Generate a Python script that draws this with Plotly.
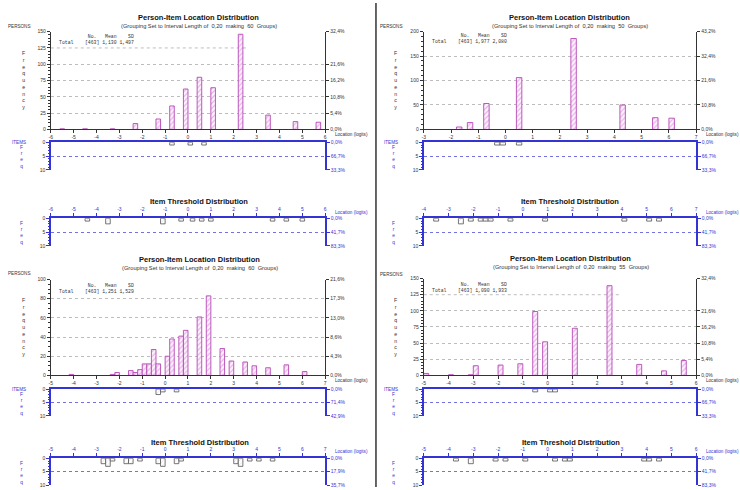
import plotly.graph_objects as go

# ---------------- data ----------------
TOTAL = 463

tl_person_loc = [-5.5, -4.5, -3.3, -2.3, -1.3, -0.7, -0.1, 0.5, 1.1, 2.3, 3.5, 4.7, 5.7]
tl_person_n = [1, 1, 1, 9, 16, 36, 62, 80, 64, 146, 22, 12, 11]
tl_item_loc = [-0.7, 0.1, 0.7]
tl_item_n = [1, 1, 1]
tl_thr_loc = [-4.4, -3.5, -1.1, -0.3, 0.2, 0.6, 1.0, 3.7, 4.3, 5.0]
tl_thr_n = [1, 2, 2, 1, 1, 1, 1, 1, 1, 1]

tr_person_loc = [-1.7, -1.3, -0.7, 0.5, 2.5, 4.3, 5.5, 6.1]
tr_person_n = [5, 14, 53, 106, 186, 50, 24, 23]
tr_item_loc = [-0.3, -0.1, 0.5]
tr_item_n = [1, 1, 1]
tr_thr_loc = [-3.5, -2.5, -2.1, -1.7, -1.5, -1.3, -0.5, 0.9, 4.1, 5.1, 5.5]
tr_thr_n = [1, 2, 1, 1, 1, 1, 1, 1, 1, 1, 1]

bl_person_loc = [-4.1, -2.3, -2.1, -1.5, -1.3, -1.1, -0.9, -0.7, -0.5, -0.3, 0.1, 0.3,
                 0.7, 0.9, 1.5, 1.9, 2.5, 2.9, 3.5, 3.9, 4.5, 5.3, 6.1]
bl_person_n = [1, 1, 3, 5, 3, 6, 12, 12, 27, 12, 20, 38, 41, 47, 61, 83, 28, 15, 14, 10, 8, 11, 4]
bl_item_loc = [-0.3, -0.1, 0.5]
bl_item_n = [2, 1, 1]
bl_thr_loc = [-2.7, -2.5, -2.3, -1.7, -1.5, -1.1, -0.3, -0.1, 0.5, 0.7, 3.1, 3.3, 3.7, 4.1, 4.7]
bl_thr_n = [2, 3, 1, 2, 2, 1, 2, 3, 2, 1, 2, 3, 1, 1, 1]

br_person_loc = [-4.9, -3.9, -3.1, -2.9, -1.9, -1.1, -0.5, -0.1, 1.1, 2.5, 3.7, 4.7, 5.5]
br_person_n = [3, 1, 1, 15, 16, 18, 99, 52, 73, 139, 17, 7, 23]
br_item_loc = [-0.5, 0.1, 0.3]
br_item_n = [1, 1, 1]
br_thr_loc = [-3.7, -3.1, -2.1, -1.7, -0.9, 0.3, 0.7, 0.9, 3.9, 4.1, 4.5]
br_thr_n = [1, 2, 1, 1, 1, 1, 1, 1, 1, 1, 1]

stats_tl = ["[463]", "1,130", "1,497"]
stats_tr = ["[463]", "1,977", "2,080"]
stats_bl = ["[463]", "1,251", "1,529"]
stats_br = ["[463]", "1,090", "1,933"]

groups_tl, groups_tr, groups_bl, groups_br = 60, 50, 60, 55

person_ticks_tl = [0, 25, 50, 75, 100, 125, 150]
person_ticks_tr = [0, 50, 100, 150, 200]
person_ticks_bl = [0, 20, 40, 60, 80, 100]
person_ticks_br = [0, 25, 50, 75, 100, 125, 150]

pct_ticks_tl = [0, 25, 50, 75, 100, 150]
pct_ticks_tr = [0, 50, 100, 150, 200]
pct_ticks_bl = [0, 20, 40, 60, 80, 100]
pct_ticks_br = [0, 25, 50, 75, 100, 150]

freq_ticks = [0, 5, 10]
item_pct_labels = ["0,0%", "66,7%", "33,3%"]
item_pct_labels_bl = ["0,0%", "71,4%", "42,9%"]
thr_pct_labels = ["0,0%", "41,7%", "83,3%"]
thr_pct_labels_bl = ["0,0%", "17,9%", "35,7%"]

# ---------------- styling / geometry ----------------
W, H = 740, 490
BLUE = "#3434d4"
DARK = "#333333"
GRID = "#a0a0a0"
FONT = "Liberation Sans, Arial, sans-serif"
MONO = "Liberation Mono, Courier New, monospace"
NB = "\u00a0"
PAD = 0.002  # keeps the end tick labels inside the axis range

quads = [
    dict(ox=0, xl=49, xr=325, title_x=198,
         title_y=15, sub_y=23, pers_y=24, stats_y=36.5, freq_y=78,
         p_top=29, p_bot=128, loc_y=133, i_top=141, i_bot=169,
         thr_title_y=201, thr_loc_y=212, t_top=218, t_bot=246,
         p_range=[-6, 6], t_range=[-6, 6], pmax=150, p_minor=5,
         p_ticks=person_ticks_tl, pct_ticks=pct_ticks_tl, trunc=(125, 2.65),
         ploc=tl_person_loc, pn=tl_person_n, iloc=tl_item_loc, inn=tl_item_n,
         tloc=tl_thr_loc, tn=tl_thr_n, stats=stats_tl, groups=groups_tl,
         ipct=item_pct_labels, tpct=thr_pct_labels),
    dict(ox=374, xl=424, xr=698, title_x=571,
         title_y=15, sub_y=23, pers_y=24, stats_y=36, freq_y=78,
         p_top=29, p_bot=128, loc_y=133, i_top=141, i_bot=169,
         thr_title_y=201, thr_loc_y=212, t_top=218, t_bot=246,
         p_range=[-3, 7], t_range=[-4, 7], pmax=200, p_minor=10,
         p_ticks=person_ticks_tr, pct_ticks=pct_ticks_tr, trunc=None,
         ploc=tr_person_loc, pn=tr_person_n, iloc=tr_item_loc, inn=tr_item_n,
         tloc=tr_thr_loc, tn=tr_thr_n, stats=stats_tr, groups=groups_tr,
         ipct=item_pct_labels, tpct=thr_pct_labels),
    dict(ox=0, xl=49, xr=325, title_x=199,
         title_y=260, sub_y=268, pers_y=274, stats_y=289, freq_y=328,
         p_top=280, p_bot=377, loc_y=382, i_top=391, i_bot=418,
         thr_title_y=445, thr_loc_y=454, t_top=461, t_bot=488,
         p_range=[-5, 7], t_range=[-5, 7], pmax=100, p_minor=5,
         p_ticks=person_ticks_bl, pct_ticks=pct_ticks_bl, trunc=None,
         ploc=bl_person_loc, pn=bl_person_n, iloc=bl_item_loc, inn=bl_item_n,
         tloc=bl_thr_loc, tn=bl_thr_n, stats=stats_bl, groups=groups_bl,
         ipct=item_pct_labels_bl, tpct=thr_pct_labels_bl),
    dict(ox=374, xl=424, xr=698, title_x=572,
         title_y=259, sub_y=267, pers_y=275, stats_y=288, freq_y=328,
         p_top=279, p_bot=377, loc_y=382, i_top=391, i_bot=418,
         thr_title_y=445, thr_loc_y=454, t_top=461, t_bot=488,
         p_range=[-5, 6], t_range=[-5, 6], pmax=150, p_minor=5,
         p_ticks=person_ticks_br, pct_ticks=pct_ticks_br, trunc=(125, 2.9),
         ploc=br_person_loc, pn=br_person_n, iloc=br_item_loc, inn=br_item_n,
         tloc=br_thr_loc, tn=br_thr_n, stats=stats_br, groups=groups_br,
         ipct=item_pct_labels, tpct=thr_pct_labels),
]


def key(kind, n):
    return f"{kind}axis" + ("" if n == 1 else str(n))


def ref(kind, n):
    return kind + ("" if n == 1 else str(n))


def dx(a, b):
    return [a / W, b / W]


def dy(top, bot):
    return [1 - bot / H, 1 - top / H]


def pct(v):
    return f"{v / TOTAL * 100:.1f}%".replace(".", ",")


def padded(r):
    return [r[0] - PAD, r[1] + PAD]


fig = go.Figure()
layout = dict(width=W, height=H, margin=dict(l=0, r=0, t=0, b=0),
              paper_bgcolor="white", plot_bgcolor="rgba(0,0,0,0)",
              showlegend=False, font=dict(family=FONT, size=5, color=DARK))
ann = []
shapes = []


def text(x, y, s, size=5, color=DARK, xanchor="left", bold=False, family=FONT, align="left"):
    ann.append(dict(x=x / W, y=1 - y / H, xref="paper", yref="paper", text=(f"<b>{s}</b>" if bold else s),
                    showarrow=False, xanchor=xanchor, yanchor="middle", align=align,
                    font=dict(size=size, color=color, family=family)))


def ghost(xs, ys, n):
    # invisible copy of the data so that the right-hand (overlaying) axis is drawn
    fig.add_trace(go.Scatter(x=xs, y=ys, mode="markers", marker=dict(opacity=0, size=1),
                             xaxis=ref("x", n), yaxis=ref("y", n + 12), hoverinfo="skip"))


person_marker = dict(color="#fdeefd", line=dict(color="#b548b5", width=0.9),
                     pattern=dict(shape="/", fgcolor="#d66ad6", bgcolor="#fdf4fd", size=3.5, solidity=0.35))
item_marker = dict(color="white", line=dict(color="#555555", width=0.8),
                   pattern=dict(shape="/", fgcolor="#b0b0b0", bgcolor="white", size=3, solidity=0.2))

for qi, q in enumerate(quads):
    ox = q["ox"]
    xl, xr = q["xl"], q["xr"]
    np_, ni, nt = qi * 3 + 1, qi * 3 + 2, qi * 3 + 3
    xt = list(range(q["p_range"][0], q["p_range"][1] + 1))
    tt = list(range(q["t_range"][0], q["t_range"][1] + 1))

    # ---- persons histogram ----
    fig.add_trace(go.Bar(x=q["ploc"], y=q["pn"], width=0.2, marker=person_marker,
                         xaxis=ref("x", np_), yaxis=ref("y", np_), hoverinfo="skip"))
    ghost(q["ploc"], q["pn"], np_)
    layout[key("x", np_)] = dict(domain=dx(xl, xr), range=padded(q["p_range"]), anchor=ref("y", np_),
                                 showline=True, linecolor=DARK, linewidth=1, ticks="outside", ticklen=3,
                                 tickcolor=DARK, tickmode="array", tickvals=xt, ticktext=[str(v) for v in xt],
                                 tickfont=dict(size=5, color=DARK), showgrid=False, zeroline=False,
                                 ticklabeloverflow="allow")
    layout[key("y", np_)] = dict(domain=dy(q["p_top"], q["p_bot"]), range=[0, q["pmax"]], anchor=ref("x", np_),
                                 showline=True, linecolor=DARK, linewidth=1, ticks="outside", ticklen=3,
                                 tickcolor=DARK, tickvals=q["p_ticks"], ticktext=[str(v) for v in q["p_ticks"]],
                                 tickfont=dict(size=5, color=DARK), showgrid=False, zeroline=False,
                                 minor=dict(ticks="outside", ticklen=1.5, tickcolor=DARK,
                                            tick0=0, dtick=q["p_minor"], showgrid=False))
    layout[key("y", np_ + 12)] = dict(overlaying=ref("y", np_), side="right", anchor=ref("x", np_),
                                      range=[0, q["pmax"]], showline=True, linecolor=DARK, linewidth=1,
                                      ticks="outside", ticklen=3, tickcolor=DARK,
                                      tickvals=q["pct_ticks"], ticktext=[pct(v) for v in q["pct_ticks"]],
                                      tickfont=dict(size=5, color=DARK), showgrid=True, griddash="dot",
                                      gridcolor=GRID, gridwidth=0.7, zeroline=False)
    if q["trunc"]:
        gy, gx = q["trunc"]
        shapes.append(dict(type="line", xref=ref("x", np_), yref=ref("y", np_),
                           x0=q["p_range"][0], x1=gx, y0=gy, y1=gy,
                           line=dict(color=GRID, width=0.7, dash="dot"), layer="below"))

    # ---- items panel ----
    fig.add_trace(go.Bar(x=q["iloc"], y=q["inn"], width=0.2, marker=item_marker,
                         xaxis=ref("x", ni), yaxis=ref("y", ni), hoverinfo="skip"))
    ghost(q["iloc"], q["inn"], ni)
    # ---- thresholds panel ----
    fig.add_trace(go.Bar(x=q["tloc"], y=q["tn"], width=0.2, marker=item_marker,
                         xaxis=ref("x", nt), yaxis=ref("y", nt), hoverinfo="skip"))
    ghost(q["tloc"], q["tn"], nt)

    for n, top, bot, rng, tks, labels, rlabels in (
            (ni, q["i_top"], q["i_bot"], q["p_range"], xt, False, q["ipct"]),
            (nt, q["t_top"], q["t_bot"], q["t_range"], tt, True, q["tpct"])):
        layout[key("x", n)] = dict(domain=dx(xl, xr), range=padded(rng), anchor=ref("y", n), side="top",
                                   showline=True, linecolor=BLUE, linewidth=2,
                                   ticks="outside" if labels else "", ticklen=3, tickcolor=BLUE,
                                   tickmode="array", tickvals=tks, ticktext=[str(v) for v in tks],
                                   showticklabels=labels, ticklabeloverflow="allow",
                                   tickfont=dict(size=5, color=BLUE), showgrid=False, zeroline=False)
        layout[key("y", n)] = dict(domain=dy(top, bot), range=[10, 0], anchor=ref("x", n),
                                   showline=True, linecolor=BLUE, linewidth=1.5, ticks="outside", ticklen=3,
                                   tickcolor=BLUE, tickvals=freq_ticks, ticktext=[str(v) for v in freq_ticks],
                                   tickfont=dict(size=5, color=DARK), showgrid=True, griddash="dot",
                                   gridcolor=BLUE, gridwidth=0.7, zeroline=False,
                                   minor=dict(ticks="outside", ticklen=1.5, tickcolor=BLUE,
                                              tick0=0, dtick=1, showgrid=False))
        layout[key("y", n + 12)] = dict(overlaying=ref("y", n), side="right", anchor=ref("x", n),
                                        range=[10, 0], showline=True, linecolor=BLUE, linewidth=1.5,
                                        ticks="outside", ticklen=3, tickcolor=BLUE,
                                        tickvals=freq_ticks, ticktext=rlabels,
                                        tickfont=dict(size=5, color=BLUE), showgrid=False, zeroline=False)

    # ---- texts ----
    text(q["title_x"], q["title_y"], "Person-Item Location Distribution", size=7.5, xanchor="center",
         bold=True, color="#111111")
    text(q["title_x"], q["sub_y"],
         f"(Grouping Set to Interval Length of {NB}0,20{NB} making {NB}{q['groups']}{NB} Groups)",
         size=5.7, xanchor="center")
    text(ox + 4, q["pers_y"], "PERSONS", size=4.6)
    s = q["stats"]
    line1 = NB * 10 + "No." + NB * 3 + "Mean" + NB * 4 + "SD"
    line2 = "Total" + NB * 4 + s[0] + NB + s[1] + NB + s[2]
    text(xl + 6, q["stats_y"], line1 + "<br>" + line2, size=4.8, family=MONO)
    text(ox + 22, q["freq_y"], "<br>".join("Frequency"), size=5.2, xanchor="center", align="center")
    text(xr + 8, q["loc_y"], "Location (logits)", size=4.6)
    text(ox + 8, q["i_top"], "ITEMS", size=4.6, color=BLUE)
    text(ox + 20, (q["i_top"] + q["i_bot"]) / 2 + 1, "<br>".join("Freq"), size=4.8, color=BLUE,
         xanchor="center", align="center")
    text(q["title_x"], q["thr_title_y"], "Item Threshold Distribution", size=7.5, xanchor="center",
         bold=True, color="#111111")
    text(xr + 8, q["thr_loc_y"], "Location (logits)", size=4.6, color=BLUE)
    text(ox + 20, (q["t_top"] + q["t_bot"]) / 2 + 1, "<br>".join("Freq"), size=4.8, color=BLUE,
         xanchor="center", align="center")

# separator between the left and right halves
shapes.append(dict(type="line", xref="paper", yref="paper", x0=376 / W, x1=376 / W, y0=0, y1=1,
                   line=dict(color="#333333", width=1.5)))

layout["annotations"] = ann
layout["shapes"] = shapes
fig.update_layout(**layout)
fig.write_html("out.html", config={"displayModeBar": False, "staticPlot": True},
               post_script="document.body.style.margin='0px';document.body.style.overflow='hidden';")
